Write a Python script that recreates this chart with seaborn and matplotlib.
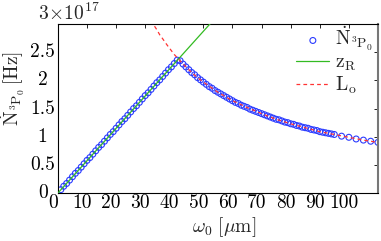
import numpy as np
import pandas as pd
import matplotlib
matplotlib.use('Agg')
import matplotlib.pyplot as plt
import matplotlib.transforms as mtransforms
import seaborn as sns

# waist w0 [um] and rate [1e17 Hz]
w0 = [1, 2, 3, 4, 5, 6, 7, 8, 9, 10, 11, 12, 13, 14, 15, 16, 17, 18, 19, 20,
      21, 22, 23, 24, 25, 26, 27, 28, 29, 30, 31, 32, 33, 34, 35, 36, 37, 38, 39, 40,
      41, 42, 43, 44, 45, 46, 47, 48, 49, 50, 51, 52, 53, 54, 55, 56, 57, 58, 59, 60,
      61, 62, 63, 64, 65, 66, 67, 68, 69, 70, 71, 72, 73, 74, 75, 76, 77, 78, 79, 80,
      81, 82, 83, 84, 85, 86, 87, 88, 89, 90, 91, 92, 93, 94, 95,
      97.5, 100, 102.5, 105, 107.5, 110]
rate = [0.06, 0.12, 0.17, 0.23, 0.29, 0.35, 0.40, 0.46, 0.52, 0.58, 0.63, 0.69, 0.75, 0.81, 0.86, 0.92, 0.98, 1.04, 1.09, 1.15,
        1.21, 1.27, 1.32, 1.38, 1.44, 1.50, 1.55, 1.61, 1.67, 1.73, 1.78, 1.84, 1.90, 1.96, 2.01, 2.07, 2.13, 2.19, 2.24, 2.30,
        2.36, 2.35, 2.29, 2.24, 2.19, 2.14, 2.10, 2.05, 2.01, 1.97, 1.93, 1.89, 1.86, 1.82, 1.79, 1.76, 1.73, 1.70, 1.67, 1.64,
        1.61, 1.59, 1.56, 1.54, 1.52, 1.49, 1.47, 1.45, 1.43, 1.41, 1.39, 1.37, 1.35, 1.33, 1.31, 1.30, 1.28, 1.26, 1.25, 1.23,
        1.22, 1.20, 1.19, 1.17, 1.16, 1.15, 1.13, 1.12, 1.11, 1.09, 1.08, 1.07, 1.06, 1.05, 1.04,
        1.01, 0.99, 0.96, 0.94, 0.92, 0.90]

# z_R limit (straight line)
zr_x = [0, 55]
zr_y = [0, 3.16]

# L_o limit
lo_x = [29, 30, 31, 32, 33, 34, 35, 36, 37.5, 40, 42.5, 45, 47.5, 50, 55, 60, 65, 70, 75, 80, 85, 90, 95, 100, 105, 110]
lo_y = [3.40, 3.28, 3.18, 3.08, 2.98, 2.90, 2.81, 2.74, 2.63, 2.46, 2.32, 2.19, 2.07, 1.97, 1.79, 1.64, 1.52, 1.41, 1.31, 1.23, 1.16, 1.09, 1.04, 0.99, 0.94, 0.90]

xticks = [0, 10, 20, 30, 40, 50, 60, 70, 80, 90, 100]
yticks = [0, 0.5, 1, 1.5, 2, 2.5, 3]
ylabels = ['0', '0.5', '1', '1.5', '2', '2.5', '']

df = pd.DataFrame({'w0': w0, 'rate': rate})

sns.set_style('white')
plt.rcParams['font.family'] = 'serif'
plt.rcParams['font.serif'] = ['cmr10']
plt.rcParams['mathtext.fontset'] = 'cm'
plt.rcParams['axes.unicode_minus'] = False

fig = plt.figure(figsize=(3.81, 2.41), dpi=100)
ax = fig.add_axes([0.152, 0.199, 0.840, 0.701])

sns.scatterplot(data=df, x='w0', y='rate', ax=ax, marker='o', s=18,
                facecolors='none', edgecolor='#2b3cff', linewidth=0.8,
                label=r'$\dot{\mathrm{N}}_{{}^{3}\mathrm{P}_{0}}$', zorder=2)
sns.lineplot(x=zr_x, y=zr_y, ax=ax, color='#33bb22', linewidth=0.9,
             label=r'$\mathrm{z_R}$', zorder=3)
sns.lineplot(x=lo_x, y=lo_y, ax=ax, color='#ff3333', linewidth=0.9,
             linestyle=(0, (3, 2.5)), label=r'$\mathrm{L_o}$', zorder=4)

fs = 14
ax.set_xlim(0, 110)
ax.set_ylim(0, 3)
ax.set_xticks(xticks)
ax.set_yticks(yticks)
ax.set_yticklabels(ylabels, ha='center')
ax.tick_params(direction='in', top=True, right=True, length=3, width=0.6,
               labelsize=fs, colors='black')
ax.tick_params(axis='x', pad=1)
ax.tick_params(axis='y', pad=11)
for s in ax.spines.values():
    s.set_linewidth(0.8)
    s.set_color('black')
ax.spines['right'].set_color('#777777')
ax.spines['right'].set_linewidth(1.5)

# labels sit a little left of their ticks in the original
shift = mtransforms.ScaledTranslation(-5 / 100, 0, fig.dpi_scale_trans)
for lab in ax.get_xticklabels():
    lab.set_transform(lab.get_transform() + shift)
up = mtransforms.ScaledTranslation(0, 2 / 100, fig.dpi_scale_trans)
for lab in ax.get_yticklabels():
    lab.set_transform(lab.get_transform() + up)

ax.set_xlabel(r'$\omega_0\ [\mathrm{\mu m}]$', fontsize=fs)
ax.xaxis.set_label_coords(0.52, -0.13)
ax.set_ylabel(r'$\dot{\mathrm{N}}_{{}^{3}\mathrm{P}_{0}}\,[\mathrm{Hz}]$', fontsize=fs)
ax.yaxis.set_label_coords(-0.097, 0.62)
ax.text(-0.0625, 1.024, r'$3\!\times\!10^{17}$', transform=ax.transAxes,
        fontsize=fs, ha='left', va='baseline')

ax.legend(loc='upper right', bbox_to_anchor=(0.985, 0.995), frameon=False,
          fontsize=fs, handlelength=1.7, borderaxespad=0, borderpad=0,
          labelspacing=0.05, handletextpad=0.3)

fig.savefig('out.png', dpi=100)
